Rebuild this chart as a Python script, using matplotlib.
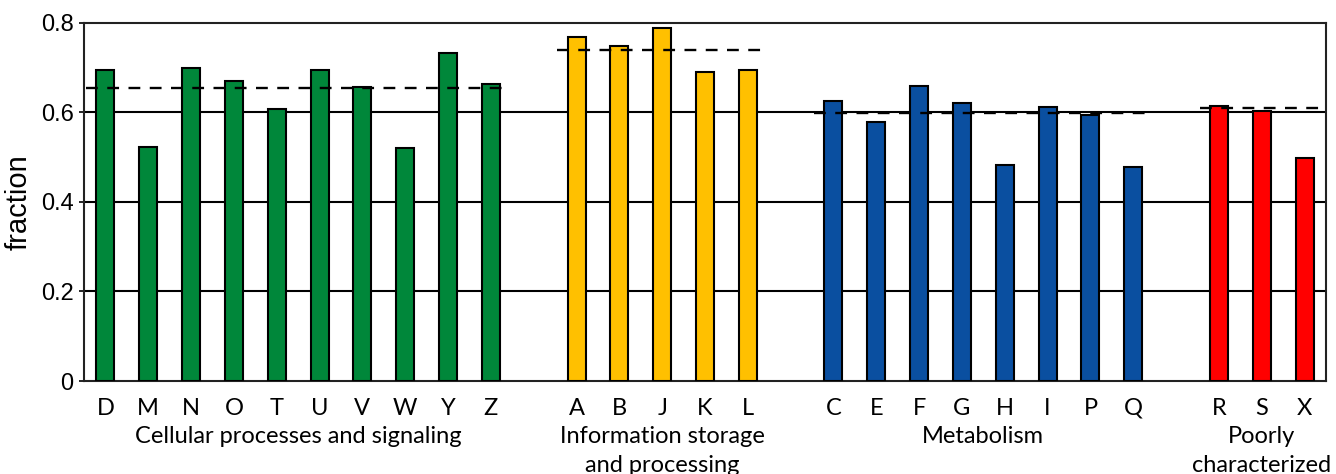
import matplotlib
matplotlib.use("Agg")
import matplotlib.pyplot as plt
import numpy as np

# Data
cell_labels = ["D", "M", "N", "O", "T", "U", "V", "W", "Y", "Z"]
cell_values = [0.693, 0.522, 0.698, 0.670, 0.606, 0.695, 0.657, 0.521, 0.733, 0.662]
cell_mean = 0.655

info_labels = ["A", "B", "J", "K", "L"]
info_values = [0.768, 0.747, 0.787, 0.689, 0.695]
info_mean = 0.738

meta_labels = ["C", "E", "F", "G", "H", "I", "P", "Q"]
meta_values = [0.625, 0.579, 0.659, 0.620, 0.483, 0.611, 0.593, 0.478]
meta_mean = 0.598

poor_labels = ["R", "S", "X"]
poor_values = [0.614, 0.602, 0.498]
poor_mean = 0.610

group_names = ["Cellular processes and signaling",
               "Information storage\nand processing",
               "Metabolism",
               "Poorly\ncharacterized"]
yticks = [0, 0.2, 0.4, 0.6, 0.8]
ytick_labels = ["0", "0.2", "0.4", "0.6", "0.8"]

groups = [
    (cell_labels, cell_values, cell_mean, "#00873A"),
    (info_labels, info_values, info_mean, "#FFC000"),
    (meta_labels, meta_values, meta_mean, "#0A4FA0"),
    (poor_labels, poor_values, poor_mean, "#FF0000"),
]

fig = plt.figure(figsize=(13.36, 4.74), dpi=100)
ax = fig.add_axes([0.0629, 0.196, 0.9296, 0.7565])

all_pos = []
all_labels = []
start = 0
centers = []
for (labels, values, mean, color) in groups:
    pos = np.arange(start, start + len(labels))
    ax.bar(pos, values, width=0.42, color=color, edgecolor="black",
           linewidth=1.5, zorder=3)
    ax.hlines(mean, pos[0] - 0.45, pos[-1] + 0.45, colors="black",
              linestyles=(0, (5, 4)), linewidth=1.7, zorder=4)
    all_pos.extend(pos)
    all_labels.extend(labels)
    centers.append((pos[0] + pos[-1]) / 2)
    start = pos[-1] + 2

for y in yticks[1:-1]:
    ax.axhline(y, color="black", linewidth=1.5, zorder=1)

ax.set_xlim(-0.5, start - 1.5)
ax.set_ylim(0, 0.8)
ax.set_yticks(yticks)
ax.set_yticklabels(ytick_labels, fontfamily="Liberation Sans", fontsize=17)
ax.set_xticks(all_pos)
ax.set_xticklabels(all_labels, fontfamily="Lato", fontsize=17)
ax.tick_params(axis="x", length=0, pad=12)
ax.tick_params(axis="y", direction="inout", length=7, width=1.2, pad=4)
for s in ax.spines.values():
    s.set_linewidth(1.5)
    s.set_color("#222222")

ax.set_ylabel("fraction", fontfamily="Liberation Sans", fontsize=21, labelpad=6)

for c, name in zip(centers, group_names):
    ax.text(c, -0.125, name, transform=ax.get_xaxis_transform(),
            ha="center", va="top", fontfamily="Lato", fontsize=17,
            linespacing=1.45)

fig.savefig("out.png", dpi=100)
